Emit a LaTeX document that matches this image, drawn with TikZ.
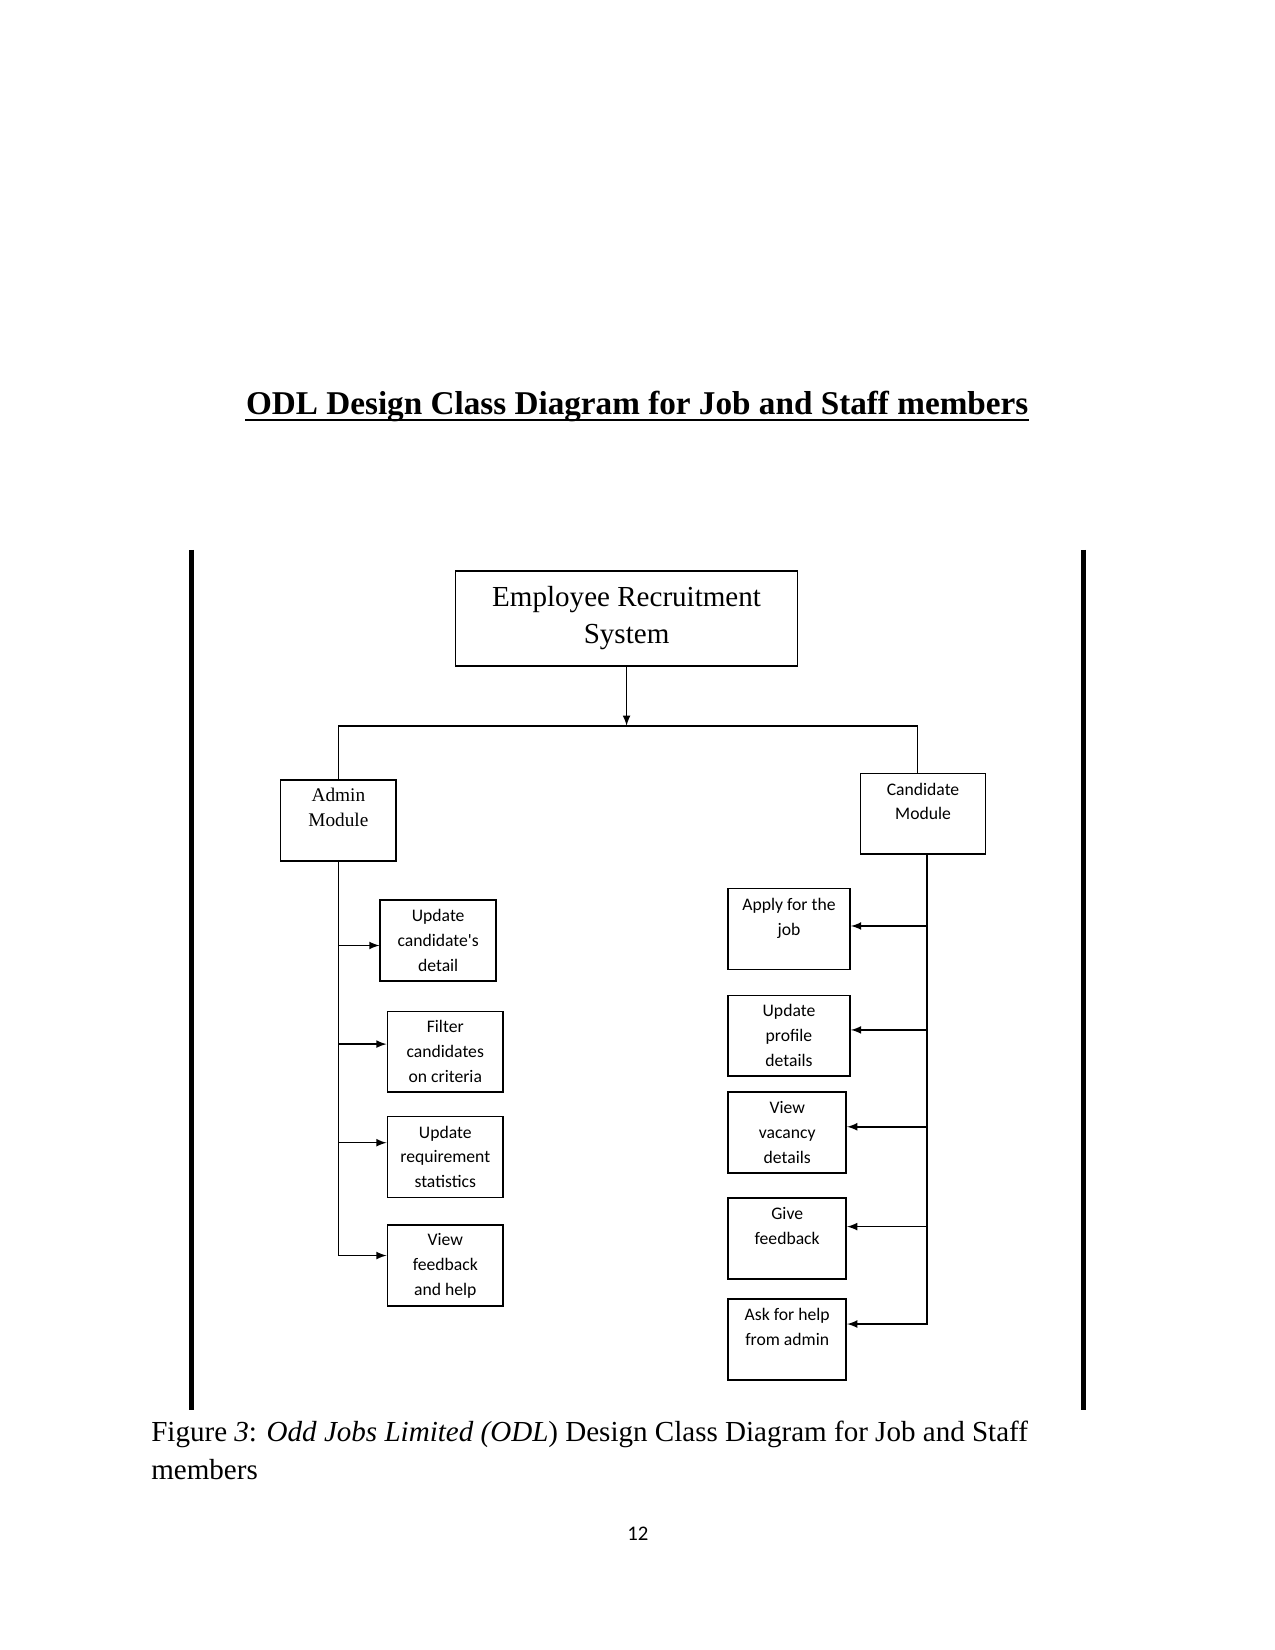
\documentclass[tikz,border=0pt]{standalone}
\usepackage{fontspec}
\setmainfont{Liberation Serif}
\newfontfamily\calib{Carlito}
\usetikzlibrary{arrows}

\begin{document}
\begin{tikzpicture}[
box/.style={draw,line width=0.8pt,align=center,inner sep=2pt},
sbox/.style={box,minimum width=1.96cm,minimum height=1.37cm,font=\calib\fontsize{8.5}{12}\selectfont},
bar/.style={line width=2.4pt},
line width=0.7pt
]
\useasboundingbox (0,0) rectangle (21.59,-27.94);
\node[font=\bfseries\fontsize{16}{19}\selectfont,inner sep=0,anchor=base] (title) at (10.79,-7.02) {ODL Design Class Diagram for Job and Staff members};
\draw[line width=0.9pt] ([yshift=-2.6pt]title.base west)--([yshift=-2.6pt]title.base east);
\draw[bar] (3.25,-9.31)--(3.25,-23.88);
\draw[bar] (18.35,-9.31)--(18.35,-23.88);

\node[box,minimum width=5.79cm,minimum height=1.61cm,font=\fontsize{14}{18}\selectfont] (ers) at (10.61,-10.47) {Employee Recruitment\\System};
\coordinate (split) at (10.61,-12.29);
\draw[-latex] (ers) -- (split);
\node[box,minimum width=1.96cm,minimum height=1.37cm,font=\fontsize{9.3}{12.5}\selectfont] (admin) at (5.73,-13.89) {Admin\\Module\\~};
\node[box,minimum width=2.12cm,minimum height=1.37cm,font=\calib\fontsize{8.5}{12}\selectfont] (cand) at (15.63,-13.78) {Candidate\\Module\\~};
\draw (admin.north) |- (split) -| ([xshift=-0.09cm]cand.north);

\node[sbox] (l1) at (7.42,-15.93) {Update\\candidate's\\detail};
\node[sbox] (l2) at (7.54,-17.81) {Filter\\candidates\\on criteria};
\node[sbox] (l3) at (7.54,-19.59) {Update\\requirement\\statistics};
\node[sbox] (l4) at (7.54,-21.43) {View\\feedback\\and help};
\draw[-latex] (admin.south) |- ([yshift=-0.08cm]l1.west);
\draw[-latex] (admin.south) |- ([yshift=0.13cm]l2.west);
\draw[-latex] (admin.south) |- ([yshift=0.24cm]l3.west);
\draw[-latex] (admin.south) |- ([yshift=0.17cm]l4.west);

\node[sbox,minimum width=2.07cm] (r1) at (13.36,-15.73) {Apply for the\\job\\~};
\node[sbox,minimum width=2.07cm] (r2) at (13.36,-17.54) {Update\\profile\\details};
\node[sbox,minimum width=2cm] (r3) at (13.33,-19.18) {View\\vacancy\\details};
\node[sbox,minimum width=2cm] (r4) at (13.33,-20.97) {Give\\feedback\\~};
\node[sbox,minimum width=2cm] (r5) at (13.33,-22.68) {Ask for help\\from admin\\~};
\draw[-latex] ([xshift=0.07cm]cand.south) |- ([yshift=0.05cm]r1.east);
\draw[-latex] ([xshift=0.07cm]cand.south) |- ([yshift=0.1cm]r2.east);
\draw[-latex] ([xshift=0.07cm]cand.south) |- ([yshift=0.1cm]r3.east);
\draw[-latex] ([xshift=0.07cm]cand.south) |- ([yshift=0.2cm]r4.east);
\draw[-latex] ([xshift=0.07cm]cand.south) |- ([yshift=0.26cm]r5.east);

\node[anchor=base west,align=left,inner sep=0,font=\fontsize{14}{18.1}\selectfont] (caption) at (2.55,-25.05) {Figure \textit{3}: \textit{Odd Jobs Limited (ODL}) Design Class Diagram for Job and Staff\\members};
\node[font=\calib\fontsize{10}{12}\selectfont,anchor=base] (pagenum) at (10.8,-26.09) {12};
\end{tikzpicture}
\end{document}
